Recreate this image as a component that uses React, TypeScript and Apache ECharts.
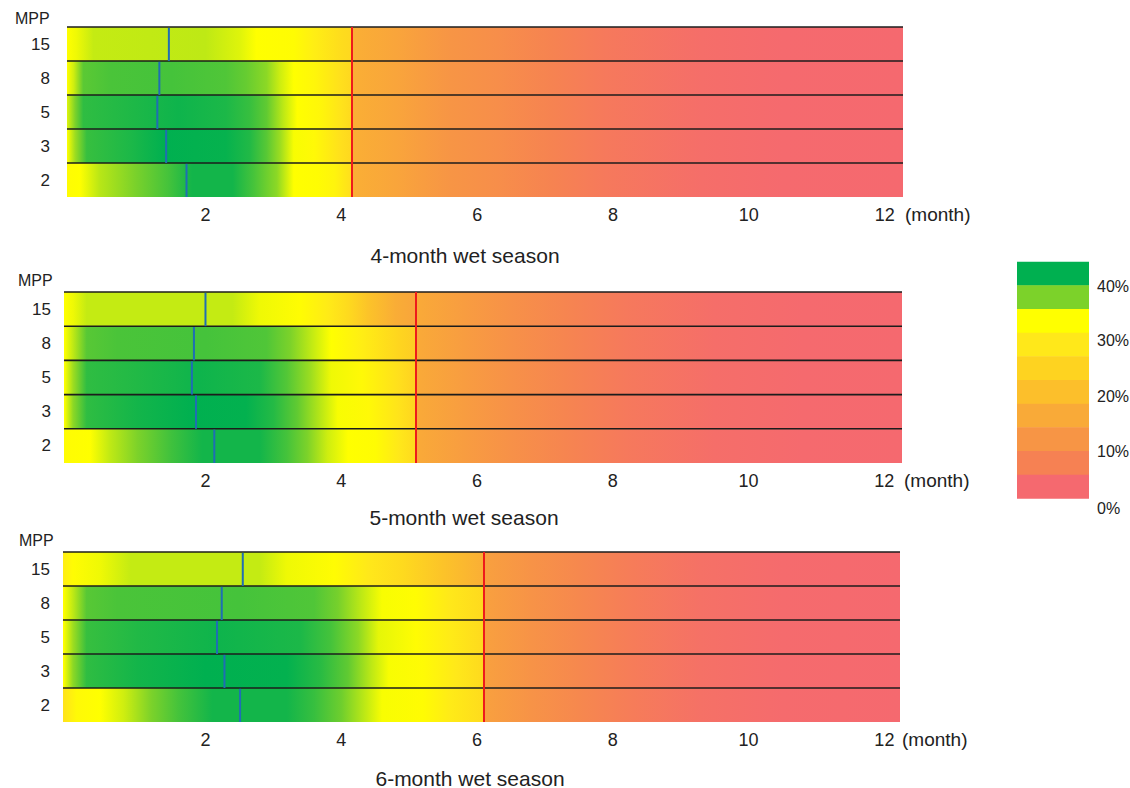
import React, { useEffect, useRef } from 'react';
import * as echarts from 'echarts';

// ---------- data ----------
const mppLevels = ['2', '3', '5', '8', '15'];
const monthTicks = [2, 4, 6, 8, 10, 12];
const panelTitles = ['4-month wet season', '5-month wet season', '6-month wet season'];
const wetSeasonEnd = [4.15, 5.1, 6.1];

// month of the blue marker, rows ordered as mppLevels
const peakMonth4 = [1.72, 1.42, 1.29, 1.32, 1.46];
const peakMonth5 = [2.13, 1.86, 1.8, 1.83, 2.0];
const peakMonth6 = [2.51, 2.28, 2.17, 2.24, 2.55];

// [month, percent] read along each row
const wet4_2 = [[-0.04, 33.5], [0.15, 34], [0.45, 36.2], [0.95, 38], [1.45, 40], [1.8, 41.8], [2.4, 41.8], [2.7, 40], [3.05, 37.5], [3.3, 34], [3.65, 33.5], [3.9, 32], [4.14, 28]];
const wet4_3 = [[-0.04, 34], [0.08, 37], [0.25, 40.5], [0.9, 41.5], [1.4, 42.5], [2.3, 42.3], [2.65, 41.3], [2.9, 39.3], [3.1, 37], [3.3, 34.2], [3.6, 33], [4.0, 28], [4.14, 26.5]];
const wet4_5 = [[-0.04, 35], [0.08, 38], [0.2, 40.8], [0.8, 41.3], [1.6, 42], [2.3, 41.5], [2.65, 40.5], [2.9, 39], [3.15, 36], [3.35, 34], [3.7, 32.5], [4.0, 29], [4.14, 27]];
const wet4_8 = [[-0.04, 34], [0.06, 35.5], [0.2, 39.2], [0.6, 39.8], [1.5, 40], [2.3, 39.6], [2.6, 38.8], [2.9, 37.5], [3.1, 35.5], [3.3, 34], [3.6, 32.5], [4.0, 28], [4.14, 26.5]];
const wet4_15 = [[-0.04, 34], [0.1, 34.5], [0.35, 35.8], [2.0, 36], [2.5, 35], [2.75, 34], [3.3, 33.5], [3.6, 31], [4.0, 27.5], [4.14, 26.5]];
const tail4 = [[4.16, 18], [4.8, 16], [5.6, 13], [6.3, 11.5], [7.1, 9], [7.9, 7], [9.3, 5], [10.5, 4.2], [12.3, 3.8]];

const wet5_2 = [[-0.08, 33.5], [0.3, 34], [0.6, 36], [1.0, 38], [1.5, 40.2], [1.95, 41.8], [2.8, 41.8], [3.2, 40], [3.5, 38], [3.8, 35.5], [4.1, 34], [4.5, 33.5], [4.85, 30], [5.09, 27]];
const wet5_3 = [[-0.08, 34], [0.05, 37.5], [0.25, 40.8], [1.0, 41.8], [1.8, 42.5], [2.6, 42.4], [3.0, 41.2], [3.35, 39], [3.65, 36.5], [3.95, 34.2], [4.4, 33], [4.85, 29], [5.09, 26]];
const wet5_5 = [[-0.08, 34], [0.05, 37], [0.25, 40.8], [1.0, 41.3], [1.9, 42], [2.8, 41.5], [3.2, 39.5], [3.55, 37], [3.85, 34.5], [4.3, 33], [4.85, 28], [5.09, 25]];
const wet5_8 = [[-0.08, 34], [0.05, 36], [0.25, 39.3], [0.7, 39.8], [2.0, 40], [2.9, 39.6], [3.25, 38], [3.55, 36], [3.85, 34], [4.3, 31], [4.85, 26], [5.09, 24]];
const wet5_15 = [[-0.08, 34], [0.05, 34.5], [0.25, 35.8], [2.4, 35.8], [2.8, 34.5], [3.4, 33.5], [3.8, 30.5], [4.1, 27], [4.4, 22], [4.8, 17.5], [5.09, 16]];
const tail5 = [[5.11, 17], [5.8, 14.5], [6.5, 12], [7.3, 9.5], [8.2, 7], [9.5, 5], [10.8, 4.2], [12.3, 3.8]];

const wet6_2 = [[-0.09, 29], [0.1, 33], [0.45, 34], [0.8, 35.5], [1.2, 38], [1.6, 40], [2.1, 41.8], [3.2, 41.8], [3.6, 40.5], [4.0, 38.5], [4.35, 36], [4.6, 34.2], [5.2, 33.5], [5.6, 30.5], [6.08, 27.5]];
const wet6_3 = [[-0.09, 34], [0.05, 37.5], [0.25, 40.8], [1.0, 41.8], [2.0, 42.5], [3.2, 42.4], [3.7, 41], [4.1, 39], [4.45, 36], [4.7, 34.2], [5.2, 33.3], [5.7, 30], [6.08, 27]];
const wet6_5 = [[-0.09, 34], [0.05, 37], [0.25, 40.5], [1.0, 41.3], [2.2, 42], [3.4, 41.5], [3.85, 40], [4.25, 37.5], [4.55, 34.8], [5.1, 33.5], [5.6, 30.5], [6.08, 27]];
const wet6_8 = [[-0.09, 34], [0.05, 36], [0.25, 39.3], [0.7, 39.8], [2.5, 40], [3.6, 39.6], [3.95, 38.2], [4.3, 36], [4.6, 34.2], [5.1, 33.5], [5.6, 30], [6.08, 27]];
const wet6_15 = [[-0.09, 31], [0.05, 33.5], [0.45, 34.5], [0.9, 35.8], [2.8, 35.8], [3.2, 34.5], [3.9, 33.5], [4.4, 30], [4.9, 27], [5.5, 22], [6.08, 18]];
const tail6 = [[6.12, 15], [6.8, 12.5], [7.5, 10], [8.3, 7.5], [9.3, 5.5], [10.5, 4.3], [12.3, 3.8]];

// colour scale (legend pieces, top -> bottom) and the percent each piece stands for
const legendColors = ['#00B050', '#7CD22A', '#FFFF00', '#FFE81A', '#FED320', '#FCBF2B', '#F9AA38', '#F79545', '#F68153', '#F5696F'];
const legendValues = [42.5, 38, 34, 30, 25.5, 21, 17, 13, 8.5, 4];
const legendLabels = ['40%', '30%', '20%', '10%', '0%'];

// ---------- layout ----------
const FONT = 'Liberation Sans, Arial, Helvetica, sans-serif';
const TEXT = '#222';
const panelLayout = [
  { left: 67, top: 27, width: 836, height: 170, min: -0.04, max: 12.27, yMargin: 17, mppGap: 9, titleX: 465, titleY: 255 },
  { left: 64, top: 292, width: 838, height: 171, min: -0.084, max: 12.26, yMargin: 13, mppGap: 12, titleX: 464, titleY: 517 },
  { left: 63, top: 552, width: 837, height: 170, min: -0.098, max: 12.23, yMargin: 13, mppGap: 12, titleX: 470, titleY: 778 },
];
const legendBox = { x: 1017, y: 261.7, w: 72, h: 236.6, labelX: 1097, labelY: [286.7, 340.7, 396.7, 451.7, 508.3] };

function hexToRgb(h: string) {
  const n = parseInt(h.slice(1), 16);
  return [(n >> 16) & 255, (n >> 8) & 255, n & 255];
}
function colorOf(v: number) {
  const n = legendValues.length;
  if (v >= legendValues[0]) return legendColors[0];
  if (v <= legendValues[n - 1]) return legendColors[n - 1];
  for (let i = 0; i < n - 1; i++) {
    const hi = legendValues[i], lo = legendValues[i + 1];
    if (v <= hi && v >= lo) {
      const t = (v - lo) / (hi - lo);
      const a = hexToRgb(legendColors[i + 1]);
      const b = hexToRgb(legendColors[i]);
      const c = a.map((x, k) => Math.round(x + (b[k] - x) * t));
      return `rgb(${c[0]},${c[1]},${c[2]})`;
    }
  }
  return legendColors[n - 1];
}

const panels = [
  { peaks: peakMonth4, rows: [wet4_2, wet4_3, wet4_5, wet4_8, wet4_15], tail: tail4 },
  { peaks: peakMonth5, rows: [wet5_2, wet5_3, wet5_5, wet5_8, wet5_15], tail: tail5 },
  { peaks: peakMonth6, rows: [wet6_2, wet6_3, wet6_5, wet6_8, wet6_15], tail: tail6 },
];

function buildOption() {
  const grid: any[] = [];
  const xAxis: any[] = [];
  const yAxis: any[] = [];
  const series: any[] = [];
  const graphic: any[] = [];

  panels.forEach((p, pi) => {
    const L = panelLayout[pi];
    grid.push({ left: L.left, top: L.top, width: L.width, height: L.height, containLabel: false });
    xAxis.push({
      type: 'value', gridIndex: pi, min: L.min, max: L.max,
      axisLine: { show: false }, axisTick: { show: false }, splitLine: { show: false },
      axisLabel: { customValues: monthTicks, fontSize: 18, color: TEXT, fontFamily: FONT, margin: 9 },
      name: '(month)', nameLocation: 'end', nameGap: 2,
      nameTextStyle: { fontSize: 19, color: TEXT, fontFamily: FONT, verticalAlign: 'top', align: 'left', padding: [8, 0, 0, 0] },
    });
    yAxis.push({
      type: 'category', gridIndex: pi, data: mppLevels,
      axisLine: { show: false }, axisTick: { show: false }, splitLine: { show: false },
      axisLabel: { fontSize: 17, color: TEXT, fontFamily: FONT, margin: L.yMargin },
      name: 'MPP', nameLocation: 'end', nameGap: L.mppGap,
      nameTextStyle: { fontSize: 16, color: TEXT, fontFamily: FONT, align: 'right', verticalAlign: 'middle', padding: [0, L.left - 47, 0, 0] },
    });
    const profiles = p.rows.map((r) => r.concat(p.tail));
    series.push({
      type: 'custom', xAxisIndex: pi, yAxisIndex: pi,
      encode: { x: 0, y: 1 },
      data: p.peaks.map((m, ri) => [m, ri]),
      renderItem: (params: any, api: any) => {
        const ri = api.value(1);
        const peak = api.value(0);
        const prof = profiles[params.dataIndex];
        const left = api.coord([L.min, ri]);
        const right = api.coord([L.max, ri]);
        const h = api.size([0, 1])[1];
        const top = left[1] - h / 2;
        const span = L.max - L.min;
        const stops = prof.map(([m, v]: number[]) => ({
          offset: Math.min(1, Math.max(0, (m - L.min) / span)),
          color: colorOf(v),
        }));
        const xp = api.coord([peak, ri])[0];
        return {
          type: 'group',
          children: [
            { type: 'rect', shape: { x: left[0], y: top, width: right[0] - left[0], height: h }, style: { fill: new echarts.graphic.LinearGradient(0, 0, 1, 0, stops) }, z2: 1 },
            { type: 'line', shape: { x1: left[0], y1: top, x2: right[0], y2: top }, style: { stroke: '#1c1c1c', lineWidth: 1.6 }, z2: 10 },
            { type: 'line', shape: { x1: xp, y1: top + 0.8, x2: xp, y2: top + h }, style: { stroke: '#1F6EB4', lineWidth: 2 }, z2: 11 },
          ],
        };
      },
      markLine: {
        silent: true, symbol: 'none', label: { show: false },
        lineStyle: { color: '#EE1B1B', width: 2, type: 'solid' },
        data: [{ xAxis: wetSeasonEnd[pi] }],
      },
    });
    graphic.push({
      type: 'text', x: L.titleX, y: L.titleY,
      style: { text: panelTitles[pi], fill: TEXT, font: `21px ${FONT}`, textAlign: 'center', textVerticalAlign: 'middle' },
    });
  });

  const ph = legendBox.h / legendColors.length;
  legendColors.forEach((c, i) => {
    graphic.push({ type: 'rect', shape: { x: legendBox.x, y: legendBox.y + i * ph, width: legendBox.w, height: ph + 0.5 }, style: { fill: c } });
  });
  legendLabels.forEach((t, i) => {
    graphic.push({ type: 'text', x: legendBox.labelX, y: legendBox.labelY[i], style: { text: t, fill: TEXT, font: `16px ${FONT}`, textAlign: 'left', textVerticalAlign: 'middle' } });
  });

  return { animation: false, backgroundColor: '#fff', grid, xAxis, yAxis, series, graphic };
}

export default function App() {
  const ref = useRef<HTMLDivElement>(null);
  useEffect(() => {
    const chart = echarts.init(ref.current as HTMLDivElement, null, { renderer: 'svg' });
    chart.setOption(buildOption() as any);
    return () => chart.dispose();
  }, []);
  return <div ref={ref} style={{ position: 'absolute', left: 0, top: 0, width: 1130, height: 788, background: '#fff' }} />;
}
